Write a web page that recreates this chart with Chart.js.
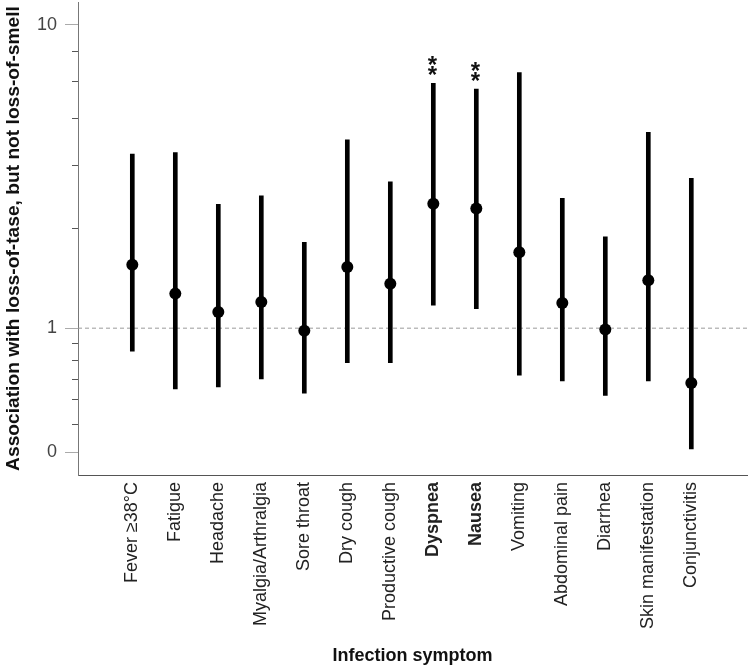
<!DOCTYPE html>
<html lang="en">
<head>
<meta charset="UTF-8">
<title>Loss of taste vs infection symptoms</title>
<script src="https://cdn.jsdelivr.net/npm/chart.js"></script>
<style>
    body {
        margin: 0;
        background: #fff;
    }
    #wrap {
        width: 749px;
        height: 671px;
    }
</style>
</head>
<body>
<div id="wrap"><canvas id="chart"></canvas></div>
<script>
    const symptoms = ['Fever \u226538\u00b0C', 'Fatigue', 'Headache', 'Myalgia/Arthralgia', 'Sore throat',
        'Dry cough', 'Productive cough', 'Dyspnea', 'Nausea', 'Vomiting', 'Abdominal pain',
        'Diarrhea', 'Skin manifestation', 'Conjunctivitis'];
    const estimate = [1.62, 1.30, 1.13, 1.22, 0.98, 1.59, 1.40, 2.57, 2.48, 1.78, 1.21, 0.99, 1.44, 0.66];
    const lower    = [0.84, 0.63, 0.64, 0.68, 0.61, 0.77, 0.77, 1.19, 1.16, 0.70, 0.67, 0.60, 0.67, 0.40];
    const upper    = [3.75, 3.79, 2.56, 2.73, 1.92, 4.18, 3.04, 6.42, 6.14, 6.96, 2.68, 2.00, 4.42, 3.12];
    const significant = ['Dyspnea', 'Nausea'];

    // y axis: labelled ticks (shown rounded) and unlabelled minor ticks
    const labeledTicks = [0.39, 1, 10];
    const minorTicks = [0.48, 0.58, 0.675, 0.78, 0.89, 2.13, 3.44, 4.93, 6.51, 8.18];
    const refValue = 1;

    Chart.defaults.font.family = '"Liberation Sans", Arial, sans-serif';

    // dashed line at OR = 1
    const refLine = {
        id: 'refLine',
        beforeDatasetsDraw(chart) {
            const { ctx, chartArea, scales } = chart;
            const py = scales.y.getPixelForValue(refValue);
            ctx.save();
            ctx.strokeStyle = '#9a9a9a';
            ctx.lineWidth = 1;
            ctx.setLineDash([4, 3]);
            ctx.beginPath();
            ctx.moveTo(chartArea.left, py);
            ctx.lineTo(chartArea.right, py);
            ctx.stroke();
            ctx.restore();
        }
    };

    // ** markers above significant symptoms
    const stars = {
        id: 'stars',
        afterDatasetsDraw(chart) {
            const { ctx, scales } = chart;
            ctx.save();
            ctx.fillStyle = '#111';
            ctx.font = 'bold 24px "Liberation Sans", Arial, sans-serif';
            ctx.textAlign = 'center';
            ctx.textBaseline = 'alphabetic';
            symptoms.forEach((s, i) => {
                if (!significant.includes(s)) return;
                const px = scales.x.getPixelForValue(i) - 1;
                const top = scales.y.getPixelForValue(upper[i]);
                ctx.fillText('*', px, top);
                ctx.fillText('*', px, top - 10);
            });
            ctx.restore();
        }
    };

    // no extra room for overhanging tick labels
    function noOverhang(scale) {
        scale.paddingTop = 0;
        scale.paddingBottom = 0;
        scale.paddingLeft = 0;
        scale.paddingRight = 0;
    }

    const ctx = document.getElementById('chart').getContext('2d');
    const chart = new Chart(ctx, {
        data: {
            datasets: [
                {
                    type: 'scatter',
                    data: symptoms.map((s, i) => ({ x: i, y: estimate[i] })),
                    pointRadius: 6,
                    pointBackgroundColor: '#000',
                    pointBorderWidth: 0,
                    order: 0
                },
                {
                    type: 'bar',
                    data: symptoms.map((s, i) => ({ x: i, y: [lower[i], upper[i]] })),
                    backgroundColor: '#000',
                    barThickness: 4,
                    borderSkipped: false,
                    order: 1
                }
            ]
        },
        options: {
            responsive: true,
            maintainAspectRatio: false,
            animation: false,
            layout: { autoPadding: false, padding: { top: 2, right: 2, left: 0, bottom: 0 } },
            plugins: {
                legend: { display: false },
                tooltip: { enabled: false }
            },
            scales: {
                x: {
                    type: 'linear',
                    bounds: 'data',
                    min: -1.263,
                    max: 14.295,
                    offset: false,
                    grid: { display: false, drawTicks: false },
                    border: { display: true, color: '#555' },
                    afterBuildTicks: scale => {
                        scale.ticks = symptoms.map((s, i) => ({ value: i }));
                    },
                    afterFit: scale => {
                        scale.height = 196;
                        noOverhang(scale);
                    },
                    ticks: {
                        autoSkip: false,
                        minRotation: 90,
                        maxRotation: 90,
                        padding: 7,
                        color: '#222',
                        font: c => ({
                            size: 18,
                            weight: c.tick && significant.includes(symptoms[c.tick.value]) ? 'bold' : 'normal'
                        }),
                        callback: v => symptoms[v] ?? ''
                    },
                    title: {
                        display: true,
                        text: 'Infection symptom',
                        color: '#111',
                        font: { size: 18, weight: 'bold' },
                        padding: { top: 4, bottom: 4 }
                    }
                },
                y: {
                    type: 'logarithmic',
                    bounds: 'data',
                    min: 0.328,
                    max: 11.9,
                    afterBuildTicks: scale => {
                        scale.ticks = [...labeledTicks, ...minorTicks]
                            .sort((a, b) => a - b)
                            .map(v => ({ value: v }));
                    },
                    afterFit: scale => {
                        scale.width = 78;
                        noOverhang(scale);
                    },
                    grid: {
                        display: true,
                        drawOnChartArea: false,
                        drawTicks: true,
                        tickLength: 13,
                        color: '#555',
                        tickColor: c => c.tick && labeledTicks.includes(c.tick.value) ? '#aaa' : '#555',
                        tickBorderDash: c => c.tick && labeledTicks.includes(c.tick.value) ? [] : [0, 7, 6, 100]
                    },
                    border: { display: true, color: '#777' },
                    ticks: {
                        autoSkip: false,
                        padding: 8,
                        color: '#444',
                        font: { size: 18 },
                        callback: v => labeledTicks.includes(v) ? Math.round(v).toString() : ''
                    },
                    title: {
                        display: true,
                        text: 'Association with loss-of-tase, but not loss-of-smell',
                        color: '#111',
                        font: { size: 19.2, weight: 'bold' },
                        padding: { top: 2, bottom: 2 }
                    }
                }
            }
        },
        plugins: [refLine, stars]
    });
</script>
</body>
</html>
